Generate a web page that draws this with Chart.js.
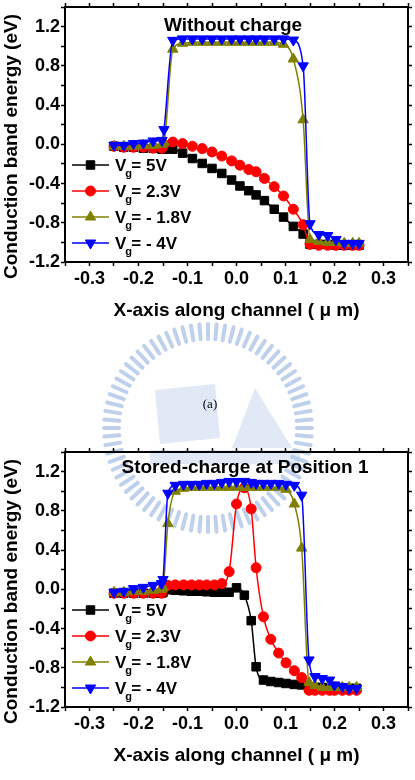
<!DOCTYPE html>
<html lang="en">
<head>
<meta charset="UTF-8">
<title>Conduction band energy</title>
<script src="https://cdn.jsdelivr.net/npm/chart.js@4.4.1/dist/chart.umd.min.js"></script>
<style>
  body { margin: 0; background: #fff; }
  #wrap { position: relative; width: 415px; height: 780px; }
  canvas { position: absolute; left: 0; }
</style>
</head>
<body>
<div id="wrap">
  <canvas id="bottomChart" width="415" height="460" style="top:320px"></canvas>
  <canvas id="topChart" width="415" height="320" style="top:0"></canvas>
</div>
<script>
// position along channel (um)
const xTop = [-0.25, -0.23, -0.21, -0.19, -0.17, -0.152, -0.148, -0.13, -0.11, -0.09, -0.07, -0.05, -0.03, -0.01,
  0.007, 0.025, 0.04, 0.057, 0.077, 0.096, 0.116, 0.136, 0.15, 0.168, 0.186, 0.203, 0.22, 0.237, 0.25];
const xBot = [-0.25, -0.23, -0.21, -0.19, -0.17, -0.153, -0.15, -0.14, -0.125, -0.108, -0.092, -0.076, -0.061, -0.045,
  -0.03, -0.015, 0.0, 0.016, 0.03, 0.04, 0.055, 0.07, 0.086, 0.101, 0.118, 0.133, 0.148, 0.16, 0.175, 0.19, 0.2,
  0.216, 0.23, 0.245];

// (a) without charge, eV
const top5V = [-0.02, -0.03, -0.03, -0.04, -0.04, -0.05, -0.05, -0.05, -0.09, -0.145, -0.195, -0.246, -0.297, -0.364,
  -0.425, -0.473, -0.516, -0.574, -0.662, -0.742, -0.837, -0.915, -1.02, -1.02, -1.02, -1.03, -1.03, -1.03, -1.03];
const top23V = [-0.02, -0.03, -0.03, -0.03, -0.04, -0.04, 0.0, 0.023, 0.007, -0.02, -0.044, -0.078, -0.12, -0.169,
  -0.213, -0.257, -0.28, -0.348, -0.432, -0.527, -0.662, -0.82, -1.02, -1.03, -1.03, -1.03, -1.03, -1.03, -1.03];
const topM18V = [-0.02, -0.02, -0.02, -0.01, -0.01, 0.0, 0.02, 0.97, 1.03, 1.04, 1.04, 1.04, 1.04, 1.04,
  1.04, 1.04, 1.04, 1.04, 1.04, 1.02, 0.87, 0.25, -0.97, -0.99, -1.0, -1.0, -1.01, -1.01, -1.01];
const topM4V = [-0.01, -0.01, 0.007, 0.013, 0.034, 0.04, 0.15, 1.06, 1.075, 1.075, 1.075, 1.075, 1.075, 1.075,
  1.075, 1.075, 1.075, 1.075, 1.075, 1.075, 1.063, 0.8, -0.81, -0.92, -0.93, -0.97, -1.01, -1.01, -1.01];

// stored charge at position 1, eV
const bot5V = [-0.04, -0.04, -0.04, -0.04, -0.04, -0.04, -0.03, -0.005, -0.01, -0.015, -0.02, -0.02, -0.025, -0.03,
  -0.03, -0.03, 0.015, -0.06, -0.32, -0.79, -0.925, -0.94, -0.95, -0.96, -0.97, -0.975, -1.0, -1.0, -1.0, -1.01,
  -1.01, -1.01, -1.01, -1.01];
const bot23V = [-0.04, -0.04, -0.04, -0.04, -0.04, -0.04, 0.0, 0.04, 0.045, 0.045, 0.045, 0.045, 0.045, 0.045,
  0.058, 0.18, 0.87, 1.035, 0.82, 0.22, -0.28, -0.51, -0.65, -0.75, -0.83, -0.9, -1.03, -1.03, -1.03, -1.03,
  -1.03, -1.03, -1.03, -1.03];
const botM18V = [-0.03, -0.03, -0.02, -0.02, -0.01, 0.0, 0.02, 0.67, 1.0, 1.03, 1.04, 1.04, 1.04, 1.04,
  1.04, 1.04, 1.04, 1.04, 1.04, 1.04, 1.04, 1.04, 1.04, 1.02, 0.87, 0.42, -0.95, -0.98, -1.0, -1.0,
  -1.0, -1.0, -1.0, -1.0];
const botM4V = [-0.03, -0.02, 0.007, 0.02, 0.04, 0.058, 0.1, 0.98, 1.06, 1.07, 1.07, 1.07, 1.08, 1.08,
  1.09, 1.1, 1.1, 1.1, 1.09, 1.08, 1.08, 1.08, 1.08, 1.07, 1.06, 0.96, -0.72, -0.89, -0.91, -0.925,
  -0.975, -0.99, -1.01, -1.01];

const legendText = ['= 5V', '= 2.3V', '= - 1.8V', '= - 4V'];
const FONT = "'Liberation Sans', Arial, sans-serif";

function fmt(v) {
  return (Math.abs(v) < 1e-9 ? 0 : v).toFixed(1);
}

function series(xs, ys, color, style, rot, radius, order) {
  return {
    data: xs.map((x, i) => ({ x: x, y: ys[i] })),
    borderColor: color,
    backgroundColor: color,
    pointBackgroundColor: color,
    pointBorderColor: color,
    borderWidth: 1.5,
    pointStyle: style,
    pointRotation: rot,
    pointRadius: radius,
    pointBorderWidth: 1,
    cubicInterpolationMode: 'monotone',
    order: order
  };
}

function makeScales(xHeight) {
  const tickFont = { family: FONT, size: 18, weight: 'bold' };
  const grid = { drawOnChartArea: false, tickLength: 4, tickWidth: 1.5, tickColor: '#000' };
  const border = { display: true, color: '#000', width: 2 };
  const fixH = h => s => { s.height = h; s.paddingLeft = 0; s.paddingRight = 0; };
  const fixW = w => s => { s.width = w; s.paddingTop = 0; s.paddingBottom = 0; };
  return {
    x: {
      type: 'linear', position: 'bottom', min: -0.35, max: 0.35,
      ticks: {
        stepSize: 0.05, color: '#000', font: tickFont, padding: 2, autoSkip: false, maxRotation: 0,
        callback: v => Math.round(v * 100) % 10 === 0 ? fmt(v) : ''
      },
      grid: grid, border: border, afterFit: fixH(xHeight)
    },
    x2: {
      type: 'linear', position: 'top', min: -0.35, max: 0.35,
      ticks: { stepSize: 0.05, display: false },
      grid: grid, border: border, afterFit: fixH(6)
    },
    y: {
      type: 'linear', position: 'left', min: -1.2, max: 1.4,
      ticks: {
        stepSize: 0.2, color: '#000', font: tickFont, padding: 1, autoSkip: false,
        callback: v => Math.round(v * 10) % 4 === 0 ? fmt(v) : ''
      },
      grid: grid, border: border, afterFit: fixW(65)
    },
    y2: {
      type: 'linear', position: 'right', min: -1.2, max: 1.4,
      ticks: { stepSize: 0.2, display: false },
      grid: grid, border: border, afterFit: fixW(6)
    }
  };
}

// panel title, axis titles and the legend with subscripts
const deco = {
  id: 'deco',
  afterDatasetsDraw(chart, args, opts) {
    const ctx = chart.ctx, a = chart.chartArea;
    ctx.save();
    ctx.fillStyle = '#000';
    ctx.font = 'bold 19px ' + FONT;
    ctx.textAlign = 'center';
    ctx.textBaseline = 'alphabetic';
    ctx.fillText(opts.title, opts.titleX, a.top + opts.titleDy);
    ctx.fillText('X-axis along channel ( \u03bc m)', (a.left + a.right) / 2, a.bottom + 54);
    ctx.save();
    ctx.translate(17, (a.top + a.bottom) / 2 + 12);
    ctx.rotate(-Math.PI / 2);
    ctx.fillText('Conduction band energy (eV)', 0, 0);
    ctx.restore();

    ctx.textAlign = 'left';
    chart.data.datasets.forEach((ds, i) => {
      const y = a.bottom - 97 + 26 * i;
      ctx.strokeStyle = ds.borderColor;
      ctx.fillStyle = ds.pointBackgroundColor;
      ctx.lineWidth = 1.5;
      ctx.beginPath();
      ctx.moveTo(72, y);
      ctx.lineTo(109, y);
      ctx.stroke();
      ctx.lineWidth = 1;
      Chart.helpers.drawPoint(ctx, {
        pointStyle: ds.pointStyle, rotation: ds.pointRotation, radius: ds.pointRadius, borderWidth: 1
      }, 90.5, y);
      ctx.fillStyle = '#000';
      ctx.font = 'bold 17px ' + FONT;
      const x0 = 115;
      ctx.fillText('V', x0, y + 6);
      const vw = ctx.measureText('V').width;
      ctx.fillText(legendText[i], x0 + vw + 5, y + 6);
      ctx.font = 'bold 11px ' + FONT;
      ctx.fillText('g', x0 + vw - 1, y + 12);
    });
    ctx.restore();
  }
};

// faint seal behind the lower panel, and the "(a)" caption
const watermark = {
  id: 'watermark',
  beforeDraw(chart) {
    const ctx = chart.ctx;
    const cx = 208, cy = 108;
    ctx.save();
    ctx.strokeStyle = 'rgba(168,192,228,0.75)';
    ctx.fillStyle = 'rgba(168,192,228,0.35)';
    ctx.lineWidth = 4;
    ctx.lineCap = 'round';
    for (let k = 0; k < 76; k++) {
      const t = k / 76 * Math.PI * 2;
      ctx.beginPath();
      ctx.moveTo(cx + 89 * Math.cos(t), cy + 89 * Math.sin(t));
      ctx.lineTo(cx + 104 * Math.cos(t), cy + 104 * Math.sin(t));
      ctx.stroke();
    }
    ctx.beginPath();
    ctx.moveTo(155, 70); ctx.lineTo(215, 64); ctx.lineTo(220, 118); ctx.lineTo(160, 124);
    ctx.closePath(); ctx.fill();
    ctx.beginPath();
    ctx.moveTo(255, 68); ctx.lineTo(292, 128); ctx.lineTo(232, 128);
    ctx.closePath(); ctx.fill();
    ctx.fillRect(150, 130, 150, 14);
    ctx.fillStyle = '#000';
    ctx.font = "13px 'Liberation Serif', serif";
    ctx.textAlign = 'center';
    ctx.textBaseline = 'middle';
    ctx.fillText('(a)', 210, 85);
    ctx.restore();
  }
};

function makeChart(id, xs, ys, xHeight, padTop, title, titleX, titleDy, plugins) {
  return new Chart(id, {
    type: 'line',
    data: {
      datasets: [
        series(xs, ys[0], '#000000', 'rect', 0, 6, 4),
        series(xs, ys[1], '#ff0000', 'circle', 0, 5, 3),
        series(xs, ys[2], '#808000', 'triangle', 0, 6, 2),
        series(xs, ys[3], '#0000ff', 'triangle', 180, 6, 1)
      ]
    },
    options: {
      responsive: false,
      animation: false,
      devicePixelRatio: 1,
      layout: { padding: { top: padTop, left: 0, right: 0, bottom: 0 } },
      scales: makeScales(xHeight),
      plugins: {
        legend: { display: false },
        tooltip: { enabled: false },
        deco: { title: title, titleX: titleX, titleDy: titleDy }
      }
    },
    plugins: plugins
  });
}

makeChart('topChart', xTop, [top5V, top23V, topM18V, topM4V], 58, 0, 'Without charge', 233, 24, [deco]);
makeChart('bottomChart', xBot, [bot5V, bot23V, botM18V, botM4V], 73, 126,
  'Stored-charge at Position 1', 245, 21, [watermark, deco]);
</script>
</body>
</html>
